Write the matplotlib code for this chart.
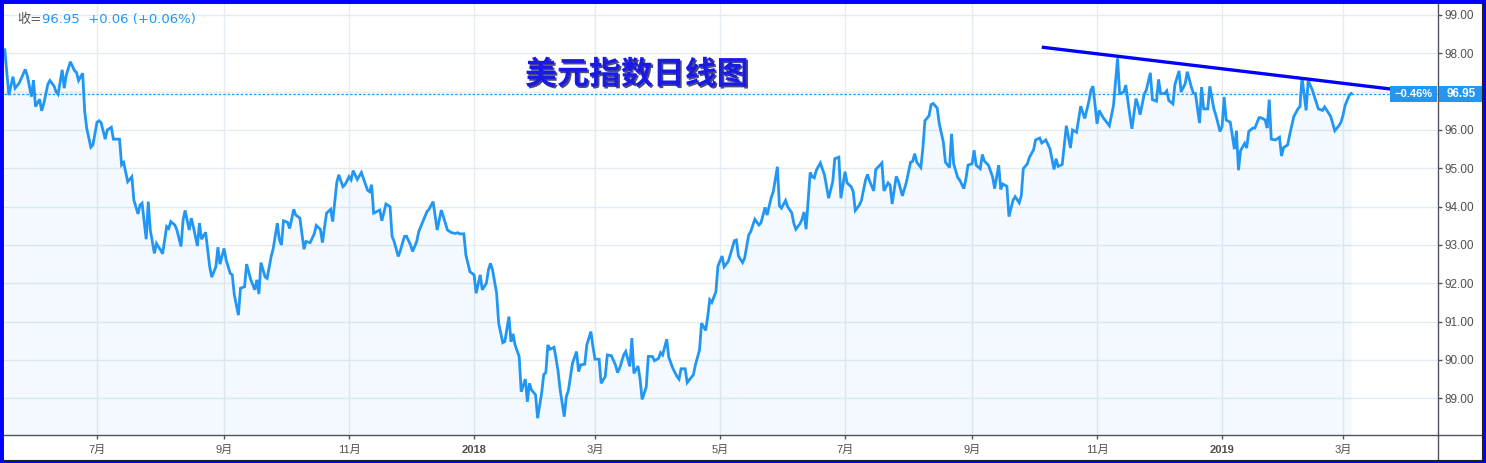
import matplotlib
matplotlib.use("Agg")
import matplotlib.pyplot as plt
import matplotlib.dates as mdates
import matplotlib.transforms as mtransforms
import matplotlib.patheffects as pe
from matplotlib.patches import Rectangle
from matplotlib.lines import Line2D
import numpy as np
import pandas as pd

# ---------------- data ----------------
dates_2017 = [
    "05-17", "05-19", "05-21", "05-22", "05-24", "05-27", "05-28", "05-30", "05-31",
    "06-01", "06-03", "06-04", "06-05", "06-07", "06-08", "06-10", "06-11", "06-12", "06-14", "06-15",
    "06-16", "06-18", "06-20", "06-21", "06-22", "06-24", "06-25", "06-26", "06-28", "06-29",
    "07-01", "07-02", "07-03", "07-05", "07-06", "07-08", "07-09", "07-12", "07-13", "07-14", "07-16",
    "07-18", "07-19", "07-21", "07-22", "07-23", "07-25", "07-26", "07-27", "07-29", "07-30",
    "08-01", "08-02", "08-04", "08-05", "08-06", "08-08", "08-09", "08-11", "08-12", "08-13", "08-15",
    "08-16", "08-17", "08-19", "08-20", "08-21", "08-23", "08-25", "08-26", "08-28", "08-29", "08-30",
    "09-01", "09-02", "09-04", "09-05", "09-06", "09-08", "09-09", "09-11", "09-12", "09-14", "09-16",
    "09-17", "09-18", "09-19", "09-21", "09-22", "09-24", "09-25", "09-27", "09-28", "09-29", "09-30",
    "10-02", "10-03", "10-05", "10-06", "10-08", "10-10", "10-11", "10-13", "10-15", "10-16", "10-18",
    "10-19", "10-21", "10-23", "10-24", "10-26", "10-27", "10-29", "10-30",
    "11-01", "11-02", "11-03", "11-05", "11-07", "11-10", "11-11", "11-12", "11-13", "11-16", "11-17",
    "11-19", "11-21", "11-22", "11-23", "11-25", "11-26", "11-28", "11-29",
    "12-01", "12-02", "12-04", "12-05", "12-07", "12-09", "12-10", "12-12", "12-14", "12-16", "12-18",
    "12-19", "12-21", "12-23", "12-24", "12-25", "12-27", "12-28", "12-30",
]
close_2017 = [
    98.09, 96.91, 97.39, 97.09, 97.22, 97.58, 97.41, 96.87, 97.30,
    96.61, 96.80, 96.50, 96.68, 97.19, 97.29, 97.15, 97.00, 96.93, 97.57, 97.09,
    97.43, 97.78, 97.55, 97.50, 97.29, 97.48, 96.48, 96.04, 95.55, 95.61,
    96.20, 96.24, 96.19, 95.76, 96.00, 96.07, 95.76, 95.76, 95.09, 95.15, 94.65,
    94.78, 94.17, 93.81, 94.04, 94.09, 93.15, 94.13, 93.39, 92.78, 93.04,
    92.87, 92.77, 93.48, 93.43, 93.61, 93.52, 93.39, 92.96, 93.65, 93.90, 93.39,
    93.70, 93.48, 92.97, 93.57, 93.15, 93.33, 92.43, 92.16, 92.43, 92.94, 92.50,
    92.91, 92.61, 92.26, 92.22, 91.70, 91.17, 91.87, 91.91, 92.50, 92.10, 91.83,
    92.09, 91.72, 92.54, 92.17, 92.13, 92.70, 92.91, 93.57, 93.13, 93.00, 93.63,
    93.59, 93.43, 93.93, 93.78, 93.70, 92.89, 93.09, 93.06, 93.29, 93.51, 93.41,
    93.06, 93.83, 93.93, 93.61, 94.63, 94.83, 94.52, 94.57,
    94.78, 94.70, 94.94, 94.71, 94.89, 94.43, 94.39, 94.57, 93.83, 93.91, 93.63,
    94.07, 94.00, 93.22, 93.09, 92.70, 92.85, 93.22, 93.23,
    93.00, 92.83, 93.09, 93.35, 93.61, 93.87, 93.93, 94.13, 93.39, 93.91, 93.57,
    93.39, 93.32, 93.30, 93.32, 93.29, 93.29, 92.74, 92.30,
]

dates_2018 = [
    "01-01", "01-02", "01-04", "01-05", "01-07", "01-08", "01-09", "01-10", "01-12", "01-13", "01-15",
    "01-16", "01-18", "01-19", "01-20", "01-21", "01-23", "01-24", "01-26", "01-27", "01-28", "01-29", "01-31",
    "02-01", "02-03", "02-04", "02-05", "02-06", "02-07", "02-09", "02-10", "02-11", "02-12", "02-14",
    "02-15", "02-16", "02-18", "02-20", "02-21", "02-22", "02-24", "02-25", "02-27", "02-28",
    "03-01", "03-03", "03-04", "03-06", "03-07", "03-09", "03-11", "03-12", "03-13", "03-15", "03-16",
    "03-18", "03-19", "03-20", "03-22", "03-23", "03-24", "03-26", "03-27", "03-29", "03-30",
    "04-01", "04-02", "04-03", "04-05", "04-06", "04-08", "04-10", "04-11", "04-12", "04-14", "04-15",
    "04-16", "04-18", "04-19", "04-21", "04-22", "04-24", "04-25", "04-26", "04-27", "04-29", "04-30",
    "05-02", "05-03", "05-05", "05-06", "05-08", "05-09", "05-10", "05-12", "05-13", "05-15", "05-16",
    "05-18", "05-20", "05-21", "05-23", "05-24", "05-26", "05-27", "05-29", "05-30", "05-31",
    "06-02", "06-03", "06-05", "06-06", "06-07", "06-09", "06-10", "06-11", "06-12", "06-14", "06-15",
    "06-16", "06-17", "06-19", "06-21", "06-22", "06-23", "06-25", "06-26", "06-28", "06-29",
    "07-01", "07-02", "07-04", "07-05", "07-06", "07-08", "07-09", "07-11", "07-12", "07-13", "07-15",
    "07-16", "07-18", "07-19", "07-20", "07-22", "07-23", "07-24", "07-26", "07-27", "07-29", "07-30", "07-31",
    "08-02", "08-03", "08-04", "08-05", "08-07", "08-08", "08-09", "08-11", "08-12", "08-13", "08-15",
    "08-16", "08-18", "08-19", "08-21", "08-22", "08-23", "08-25", "08-26", "08-28", "08-29", "08-30",
    "09-01", "09-02", "09-03", "09-05", "09-06", "09-07", "09-09", "09-11", "09-12", "09-14", "09-15",
    "09-16", "09-18", "09-19", "09-21", "09-22", "09-24", "09-25", "09-26", "09-28", "09-29",
    "10-01", "10-02", "10-04", "10-05", "10-07", "10-09", "10-11", "10-12", "10-13", "10-15", "10-17",
    "10-19", "10-20", "10-22", "10-24", "10-26", "10-28", "10-29", "10-30",
    "11-01", "11-02", "11-04", "11-05", "11-07", "11-09", "11-11", "11-12", "11-14", "11-15", "11-17",
    "11-18", "11-20", "11-21", "11-22", "11-24", "11-25", "11-27", "11-28", "11-30",
    "12-01", "12-02", "12-04", "12-05", "12-06", "12-08", "12-09", "12-11", "12-12", "12-14", "12-15",
    "12-17", "12-18", "12-19", "12-21", "12-22", "12-23", "12-25", "12-26", "12-28", "12-29", "12-31",
]
close_2018 = [
    92.22, 91.74, 92.22, 91.83, 92.00, 92.35, 92.52, 92.35, 91.74, 90.96, 90.45,
    90.48, 91.13, 90.48, 90.68, 90.39, 90.09, 89.17, 89.50, 88.91, 89.39, 89.22, 89.09,
    88.48, 89.15, 89.62, 89.67, 90.39, 90.28, 90.33, 90.04, 89.70, 89.22, 88.52,
    89.04, 89.20, 89.91, 90.22, 89.70, 89.87, 89.89, 90.39, 90.74, 90.35,
    90.02, 90.02, 89.39, 89.57, 90.13, 90.11, 89.87, 89.67, 89.78, 90.13, 90.22,
    89.83, 90.57, 89.65, 89.84, 89.50, 88.97, 89.29, 90.09, 90.09, 89.98,
    90.04, 90.19, 90.13, 90.54, 90.07, 89.78, 89.57, 89.50, 89.77, 89.77, 89.41,
    89.48, 89.61, 89.87, 90.26, 90.96, 90.77, 91.13, 91.57, 91.50, 91.78, 92.45,
    92.71, 92.43, 92.57, 92.74, 93.11, 93.13, 92.71, 92.54, 92.65, 93.26, 93.35,
    93.67, 93.52, 93.58, 93.98, 93.78, 94.24, 94.39, 95.04, 94.02, 93.96,
    94.16, 94.00, 93.84, 93.57, 93.41, 93.55, 93.67, 93.86, 93.41, 94.89, 94.78,
    94.75, 94.95, 95.14, 94.82, 94.52, 94.22, 94.65, 95.25, 95.29, 94.22,
    94.91, 94.62, 94.52, 94.39, 93.90, 94.04, 94.16, 94.69, 94.84, 94.67, 94.41,
    94.97, 95.08, 95.14, 94.41, 94.62, 94.56, 94.07, 94.79, 94.67, 94.28, 94.47, 94.65,
    95.16, 95.18, 95.38, 95.16, 95.02, 95.53, 96.24, 96.37, 96.66, 96.69, 96.57,
    96.16, 95.68, 95.16, 95.02, 95.90, 95.12, 94.76, 94.69, 94.47, 94.73, 95.08,
    95.12, 95.47, 95.08, 94.99, 95.36, 95.19, 95.08, 94.78, 94.47, 95.08, 94.45,
    94.59, 94.53, 93.74, 94.17, 94.26, 94.10, 94.28, 94.99, 95.12, 95.29,
    95.48, 95.74, 95.79, 95.66, 95.74, 95.51, 94.97, 95.25, 95.05, 95.10, 96.11,
    95.53, 96.00, 95.94, 96.62, 96.30, 96.75, 97.04, 97.14,
    96.16, 96.51, 96.32, 96.25, 96.11, 96.64, 97.87, 96.95, 96.99, 97.17, 96.38,
    96.03, 96.82, 96.64, 96.40, 96.93, 97.04, 97.49, 96.79, 96.75,
    97.32, 96.95, 96.95, 97.02, 96.77, 96.68, 97.19, 97.54, 96.99, 97.21, 97.52,
    97.12, 96.96, 96.95, 96.18, 97.12, 96.55, 96.55, 97.14, 96.55, 96.38, 95.96,
]

dates_2019 = [
    "01-01", "01-02", "01-03", "01-05", "01-07", "01-08", "01-09", "01-10", "01-12", "01-13", "01-14",
    "01-16", "01-17", "01-19", "01-20", "01-22", "01-23", "01-24", "01-25", "01-27", "01-29", "01-30", "01-31",
    "02-02", "02-03", "02-05", "02-07", "02-08", "02-09", "02-11", "02-12", "02-14", "02-15", "02-17",
    "02-19", "02-20", "02-22", "02-23", "02-25", "02-27", "02-28",
    "03-01", "03-02", "03-04", "03-05",
]
close_2019 = [
    96.09, 96.86, 96.26, 96.20, 95.50, 95.98, 94.95, 95.46, 95.65, 95.53, 95.96,
    96.05, 96.05, 96.32, 96.32, 96.26, 96.05, 96.79, 95.76, 95.74, 95.81, 95.32, 95.54,
    95.61, 95.88, 96.35, 96.55, 96.61, 97.37, 96.51, 97.28, 97.05, 96.88, 96.55,
    96.51, 96.60, 96.44, 96.35, 95.98, 96.11, 96.20,
    96.38, 96.64, 96.90, 96.95,
]

last_close = 96.95
change_text = "+0.06 (+0.06%)"

tick_dates = ["2017-07-01", "2017-09-01", "2017-11-01", "2018-01-01", "2018-03-01", "2018-05-01",
              "2018-07-01", "2018-09-01", "2018-11-01", "2019-01-01", "2019-03-01"]
tick_labels = ["7月", "9月", "11月", "2018", "3月", "5月", "7月", "9月", "11月", "2019", "3月"]
y_ticks = [89, 90, 91, 92, 93, 94, 95, 96, 97, 98, 99]

trend_dates = ["2018-10-05", "2019-03-24"]
trend_values = [98.16, 97.07]
trend_pct = "\u22120.46%"

title_text = "美元指数日线图"

# ---------------- assemble ----------------
assert len(dates_2017) == len(close_2017)
assert len(dates_2018) == len(close_2018)
assert len(dates_2019) == len(close_2019)
x = pd.to_datetime(["2017-" + d for d in dates_2017] +
                   ["2018-" + d for d in dates_2018] +
                   ["2019-" + d for d in dates_2019])
y = np.array(close_2017 + close_2018 + close_2019)

plt.rcParams['font.family'] = ['Liberation Sans', 'Noto Sans CJK SC', 'DejaVu Sans']

W, H = 1486, 463
fig = plt.figure(figsize=(W / 100, H / 100), dpi=100, facecolor='white')

L, R, T, B = 4, 1438, 3, 435
ax = fig.add_axes([L / W, (H - B) / H, (R - L) / W, (B - T) / H])

LINE = '#2196f3'
AXC = '#50535e'
GRID = '#e4ecf3'
LBL = '#4f4f4f'

# x limits: linear time scale so that ticks fall where the reference puts them
t0 = mdates.date2num(pd.Timestamp("2017-07-01"))
t1 = mdates.date2num(pd.Timestamp("2019-03-01"))
px_per_day = (1343 - 97) / (t1 - t0)
ax.set_xlim(t0 - (97 - L) / px_per_day, t1 + (R - 1343) / px_per_day)
ymin = 98 - (B - 53.3) / 38.33
ymax = 98 + (53.3 - T) / 38.33
ax.set_ylim(ymin, ymax)

ax.fill_between(x, y, ymin, color=LINE, alpha=0.05, lw=0, zorder=1)
ax.plot(x, y, color=LINE, lw=2.0, zorder=3, solid_joinstyle='miter')
ax.axhline(last_close, color=LINE, lw=0.9, ls=(0, (2, 1.5)), zorder=2)
ax.plot(pd.to_datetime(trend_dates), trend_values, color='#0000ff', lw=2.4, zorder=4,
        solid_capstyle='butt')

# axes styling
for s in ['top', 'left']:
    ax.spines[s].set_visible(False)
for s in ['right', 'bottom']:
    ax.spines[s].set_color(AXC)
    ax.spines[s].set_linewidth(1.0)

ax.set_xticks(pd.to_datetime(tick_dates))
ax.set_xticklabels(tick_labels)
for lab, txt in zip(ax.get_xticklabels(), tick_labels):
    if txt.isdigit():
        lab.set_fontweight('bold')
ax.yaxis.tick_right()
ax.set_yticks(y_ticks)
ax.set_yticklabels(["" if v == 97 else f"{v:.2f}" for v in y_ticks])
ax.tick_params(axis='x', length=3, width=1, color=AXC, labelcolor=LBL, labelsize=8, pad=4)
ax.tick_params(axis='y', length=3, width=1, color=AXC, labelcolor=LBL, labelsize=8.5, pad=1.5)
ax.grid(True, color=GRID, lw=1, zorder=0)
ax.set_axisbelow(True)

# separators of the price / time scales
fig.add_artist(Line2D([R / W, 1 - 4 / W], [(H - B) / H] * 2, transform=fig.transFigure,
                      color=AXC, lw=1.0))
fig.add_artist(Line2D([R / W] * 2, [3 / H, (H - B) / H], transform=fig.transFigure,
                      color=AXC, lw=1.0))

# price and percent labels on the right
bt = mtransforms.blended_transform_factory(fig.transFigure, ax.transData)
hh = 16 / 38.33
ax.add_patch(Rectangle((1390 / W, last_close - hh / 2), (1437 - 1390) / W, hh, transform=bt,
                       facecolor=LINE, edgecolor='none', clip_on=False, zorder=10))
ax.add_patch(Rectangle((1439 / W, last_close - hh / 2), (1483 - 1439) / W, hh, transform=bt,
                       facecolor=LINE, edgecolor='none', clip_on=False, zorder=10))
ax.text(1413.5 / W, last_close, trend_pct, transform=bt, ha='center', va='center',
        color='white', fontsize=8, fontweight='bold', zorder=11, clip_on=False)
ax.text(1461 / W, last_close, f"{last_close:.2f}", transform=bt, ha='center', va='center',
        color='white', fontsize=8.5, fontweight='bold', zorder=11, clip_on=False)

# legend line top-left
legend_font = ['DejaVu Sans', 'Noto Sans CJK SC']
fig.text(17 / W, 1 - 20 / H, "收=", color='#555555', fontsize=9.5, va='center', ha='left',
         family=legend_font)
fig.text(41.5 / W, 1 - 20 / H, f"{last_close:.2f}  {change_text}", color=LINE, fontsize=9.5,
         va='center', ha='left', family=legend_font)

# title
fig.text(637 / W, 1 - 75 / H, title_text, color='#1a1ae6', fontsize=23, fontweight='bold',
         family=['Noto Sans CJK SC'], ha='center', va='center',
         path_effects=[pe.SimplePatchShadow(offset=(1.2, -1.2), shadow_rgbFace='#000044', alpha=0.7),
                       pe.Normal()])

# blue frame with thin inner dark line at right / bottom
fig.add_artist(Line2D([1 - 4.5 / W] * 2, [3 / H, 1 - 3 / H], transform=fig.transFigure,
                      color='#222222', lw=0.8))
fig.add_artist(Line2D([3 / W, 1 - 4 / W], [3.5 / H] * 2, transform=fig.transFigure,
                      color='#222222', lw=0.8))
fig.add_artist(Rectangle((0, 0), 1, 1, transform=fig.transFigure, fill=False,
                         edgecolor='#0000ff', lw=5))

fig.savefig("out.png", dpi=100, facecolor='white')
